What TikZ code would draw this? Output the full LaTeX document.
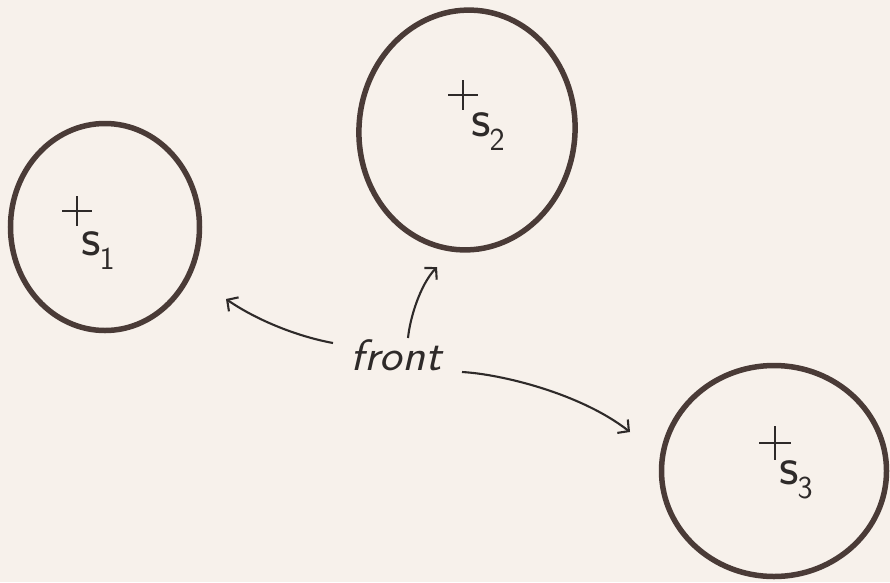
\documentclass[tikz,border=0pt]{standalone}
\usetikzlibrary{shapes.geometric,arrows.meta}
\definecolor{bg}{HTML}{F7F1EB}
\definecolor{ink}{HTML}{4A3B37}
\definecolor{pen}{HTML}{2E2A29}
\newcommand{\slabel}[1]{s\kern-1pt\raisebox{-14pt}{\fontsize{32}{32}\selectfont #1}}
\begin{document}
\begin{tikzpicture}[x=1pt,y=-1pt,
  blob/.style={draw=ink,line width=5.5pt,ellipse,inner sep=0pt},
  cross/.style={draw=pen,line width=2.3pt},
  lbl/.style={text=pen,font=\sffamily\fontsize{54}{56}\selectfont,inner sep=0pt,anchor=base west},
  word/.style={text=pen,font=\sffamily\itshape\fontsize{44}{46}\selectfont,inner sep=0pt},
  arr/.style={draw=pen,line width=2.1pt,-{Straight Barb[length=8pt,width=17pt,line width=2.1pt]}}]
\fill[bg] (0,0) rectangle (890,582);
\useasboundingbox (0,0) rectangle (890,582);
% circles
\node[blob,minimum width=189pt,minimum height=207pt] (c1) at (105,227) {};
\node[blob,minimum width=216pt,minimum height=240pt,rotate=-5] (c2) at (467,130) {};
\node[blob,minimum width=225pt,minimum height=211pt] (c3) at (774,471) {};
% centres
\coordinate (p1) at (77,211);
\coordinate (p2) at (463,95);
\coordinate (p3) at (775,443);
\draw[cross] (p1) ++(-15,0) -- ++(30,0) (p1) ++(0,-15) -- ++(0,30);
\draw[cross] (p2) ++(-15,0) -- ++(30,0) (p2) ++(0,-15) -- ++(0,30);
\draw[cross] (p3) ++(-16,0) -- ++(32,0) (p3) ++(0,-17) -- ++(0,34);
% labels
\node[lbl] (s1) at (81,255) {\slabel{1}};
\node[lbl] (s2) at (471,136) {\slabel{2}};
\node[lbl] (s3) at (779,484) {\slabel{3}};
% front
\node[word] (front) at (396,355) {\scalebox{1.08}[1]{front}};
\coordinate (a1s) at (333,343);
\coordinate (a1e) at (226,299);
\coordinate (a2s) at (408,338);
\coordinate (a2e) at (437,267);
\coordinate (a3s) at (462,372);
\coordinate (a3e) at (630,432);
\draw[arr] (a1s) .. controls (295,336) and (255,319) .. (a1e);
\draw[arr] (a2s) .. controls (410,318) and (420,285) .. (a2e);
\draw[arr] (a3s) .. controls (500,374) and (580,393) .. (a3e);
\end{tikzpicture}
\end{document}
